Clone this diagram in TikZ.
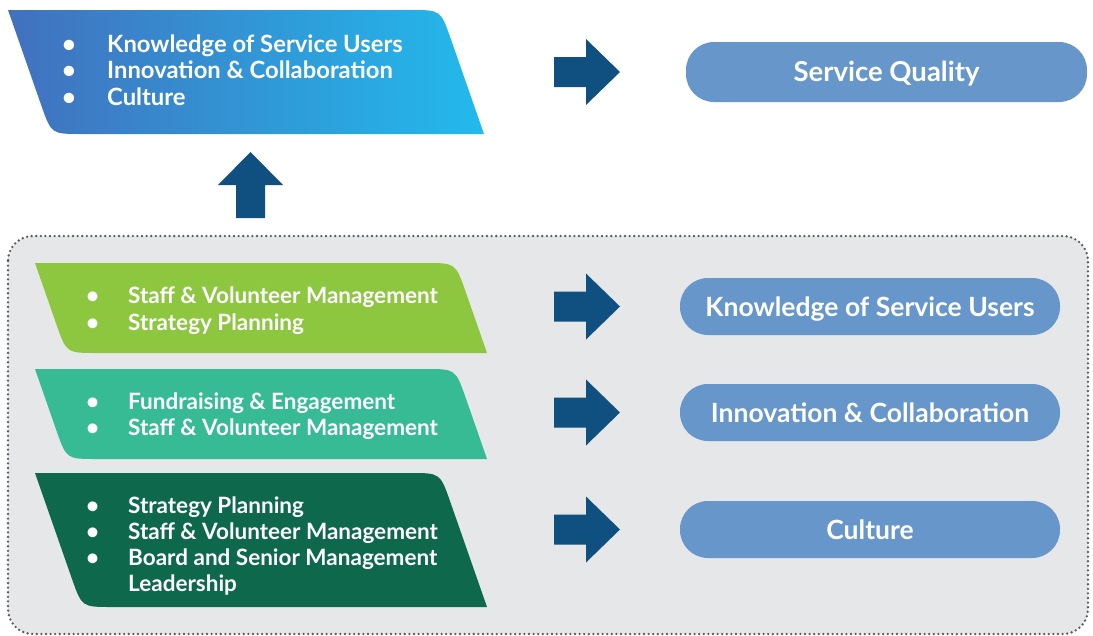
\documentclass[tikz,border=0pt]{standalone}
\usepackage{fontspec}
\setmainfont{Lato}
\definecolor{topL}{RGB}{66,112,190}
\definecolor{topR}{RGB}{34,186,236}
\definecolor{arrowblue}{RGB}{16,80,128}
\definecolor{pillblue}{RGB}{102,150,202}
\definecolor{bggray}{RGB}{230,231,233}
\definecolor{dotgray}{RGB}{92,92,96}
\definecolor{greenA}{RGB}{141,198,63}
\definecolor{greenB}{RGB}{55,187,148}
\definecolor{greenC}{RGB}{13,104,76}

% slanted panel: options, left x (top edge), top y, bottom y, right x (bottom edge)
\newcommand\slantpanel[5]{%
  \path[#1] (#2,#3)
    -- ({#5-0.35*(#4-#3)-30},#3)
    .. controls ({#5-0.35*(#4-#3)},#3) .. ({#5-0.35*(#4-#3)+10},{#3+28.3})
    -- (#5,#4)
    -- ({#2+0.35*(#4-#3)+30},#4)
    .. controls ({#2+0.35*(#4-#3)},#4) .. ({#2+0.35*(#4-#3)-10},{#4-28.3})
    -- cycle;}

% block arrow pointing right: tail x, centre y
\newcommand\rightblock[2]{%
  \fill[arrowblue] (#1,{#2-15}) -- ({#1+32},{#2-15}) -- ({#1+32},{#2-33})
    -- ({#1+66},#2) -- ({#1+32},{#2+33}) -- ({#1+32},{#2+15})
    -- (#1,{#2+15}) -- cycle;}

% bullet line: style, name, x, baseline y, bullet gap, text
\newcommand\bulletline[6]{%
  \node[#1] (#2) at (#3,#4) {\makebox[#5][l]{\textbullet}#6};}

\tikzset{
  listtext/.style={anchor=base west, inner sep=0pt, text=white,
    font=\fontsize{22.5}{26}\selectfont\bfseries},
  toptext/.style={listtext, font=\fontsize{23.8}{26}\selectfont\bfseries},
  pill/.style={fill=pillblue, rounded corners=28pt, text=white, inner sep=0pt,
    text height=19pt, text depth=0pt,
    font=\fontsize{26.5}{30}\selectfont\bfseries},
  bigpill/.style={pill, text height=19.8pt, font=\fontsize{27.5}{32}\selectfont\bfseries},
}

\begin{document}
\begin{tikzpicture}[x=1pt,y=-1pt]
\useasboundingbox (0,0) rectangle (1093,635);

% grey frame holding the three driver rows
\draw[fill=bggray, draw=dotgray, line width=2.6pt, line cap=round,
      dash pattern=on 0pt off 4.6pt, rounded corners=25pt]
  (8,236) rectangle (1088,634);

% outcome panel at the top
\slantpanel{left color=topL, right color=topR}{8}{10}{134}{484}
\bulletline{toptext}{t1}{62}{52}{45pt}{Knowledge of Service Users}
\bulletline{toptext}{t2}{62}{78.5}{45pt}{Innovation \& Collaboration}
\bulletline{toptext}{t3}{62}{105}{45pt}{Culture}

\rightblock{554}{72}
\node[bigpill, minimum width=401pt, minimum height=60pt] (sq) at (886.5,72) {Service Quality};

% upward arrow
\fill[arrowblue] (236,218) -- (265,218) -- (265,185) -- (283,185)
  -- (250.5,152) -- (218,185) -- (236,185) -- cycle;

% driver rows
\slantpanel{fill=greenA}{35}{263}{353}{487}
\bulletline{listtext}{a1}{86}{303}{42pt}{Staff \& Volunteer Management}
\bulletline{listtext}{a2}{86}{330}{42pt}{Strategy Planning}

\slantpanel{fill=greenB}{35}{369}{459}{487}
\bulletline{listtext}{b1}{86}{409}{42pt}{Fundraising \& Engagement}
\bulletline{listtext}{b2}{86}{435.5}{42pt}{Staff \& Volunteer Management}

\slantpanel{fill=greenC}{35}{473}{607}{487}
\bulletline{listtext}{c1}{86}{513}{42pt}{Strategy Planning}
\bulletline{listtext}{c2}{86}{539}{42pt}{Staff \& Volunteer Management}
\bulletline{listtext}{c3}{86}{565}{42pt}{Board and Senior Management}
\node[listtext] (c4) at (128,591) {Leadership};

% arrows and outcome pills
\rightblock{554}{306.5}
\node[pill, minimum width=380pt, minimum height=57pt] (k) at (870,306.5) {Knowledge of Service Users};
\rightblock{554}{412.5}
\node[pill, minimum width=380pt, minimum height=57pt] (i) at (870,412.5) {Innovation \& Collaboration};
\rightblock{554}{529.5}
\node[pill, minimum width=380pt, minimum height=57pt] (c) at (870,529.5) {Culture};
\end{tikzpicture}
\end{document}
